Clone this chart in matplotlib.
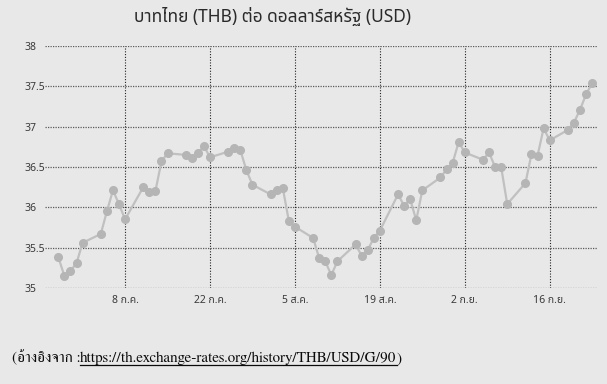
import matplotlib
matplotlib.use("Agg")
import matplotlib.pyplot as plt
import matplotlib.dates as mdates
import pandas as pd

# data (business days, 27 Jun - 23 Sep 2022)
dates = pd.bdate_range("2022-06-27", "2022-09-23")
rate = [
    35.38, 35.15, 35.21, 35.31, 35.56,
    35.67, 35.95, 36.21, 36.04, 35.85,
    36.25, 36.19, 36.20, 36.57, 36.67,
    36.65, 36.61, 36.67, 36.76, 36.62,
    36.69, 36.73, 36.71, 36.46, 36.28,
    36.16, 36.22, 36.24, 35.83, 35.76,
    35.62, 35.37, 35.33, 35.16, 35.33,
    35.54, 35.40, 35.47, 35.62, 35.71,
    36.16, 36.02, 36.10, 35.84, 36.21,
    36.37, 36.47, 36.55, 36.81, 36.68,
    36.59, 36.68, 36.50, 36.50, 36.04,
    36.30, 36.66, 36.64, 36.98, 36.83,
    36.96, 37.05, 37.21, 37.40, 37.54,
]
tick_dates = ["2022-07-08", "2022-07-22", "2022-08-05", "2022-08-19", "2022-09-02", "2022-09-16"]
tick_labels = ["8 ก.ค.", "22 ก.ค.", "5 ส.ค.", "19 ส.ค.", "2 ก.ย.", "16 ก.ย."]
y_ticks = [35, 35.5, 36, 36.5, 37, 37.5, 38]
y_labels = ["35", "35.5", "36", "36.5", "37", "37.5", "38"]

title = "บาทไทย (THB) ต่อ ดอลลาร์สหรัฐ (USD)"
src_head = "(อ้างอิงจาก :"
src_url = "https://th.exchange-rates.org/history/THB/USD/G/90"
src_tail = ")"

W, H = 607, 384
fig = plt.figure(figsize=(W / 100, H / 100), dpi=100, facecolor="#e8e8e8")
ax = fig.add_axes([45 / W, 1 - 288 / H, (597 - 45) / W, (288 - 46) / H])
ax.set_facecolor("none")

x = mdates.date2num(dates)
ax.plot(x, rate, color="#c0c0c0", lw=1.6, marker="o", ms=5.5,
        mfc="#b5b5b5", mec="#b5b5b5", zorder=3)

ax.set_ylim(35, 38)
x0 = mdates.date2num(pd.Timestamp("2022-07-08"))
ax.set_xlim(x0 - 13.2, x0 + 69.9 + 7.9)

ax.set_yticks(y_ticks)
ax.set_yticklabels(y_labels, fontsize=7.5, color="#3a3a3a", family="Noto Sans Thai", ha="left")
ax.tick_params(axis="y", length=0, pad=14.5)
xt = mdates.date2num(pd.to_datetime(tick_dates))
ax.set_xticks(xt)
ax.set_xticklabels(tick_labels, fontsize=7.5, color="#3a3a3a", family="Noto Sans Thai")
ax.tick_params(axis="x", length=0, pad=5)

for v in y_ticks:
    ax.axhline(v, color="#5a5a5a", lw=0.9, ls=(0, (1, 1)), zorder=1)
for v in xt:
    ax.axvline(v, color="#222222", lw=0.8, ls=(0, (1, 1.5)), zorder=1)
for s in ax.spines.values():
    s.set_visible(False)

fig.text(272 / W, 1 - 17 / H, title, ha="center", va="center", fontsize=12.5,
         color="#2a2a2a", family="Noto Sans Thai")

# source line with underlined link
r = fig.canvas.get_renderer()
t1 = fig.text(12 / W, 1 - 362 / H, src_head, ha="left", va="baseline", fontsize=10.9,
              color="#0a0a0a", family="FreeSerif")
e1 = t1.get_window_extent(r)
t2 = fig.text(e1.x1 / W, 1 - 362 / H, src_url, ha="left", va="baseline", fontsize=10.9,
              color="#0a0a0a", family="FreeSerif")
e2 = t2.get_window_extent(r)
t3 = fig.text(e2.x1 / W, 1 - 362 / H, src_tail, ha="left", va="baseline", fontsize=10.9,
              color="#0a0a0a", family="FreeSerif")
uy = (H - 362 - 2.5) / H
fig.add_artist(plt.Line2D([e2.x0 / W, e2.x1 / W], [uy, uy], color="#0a0a0a", lw=0.9))

fig.savefig("out.png", dpi=100, facecolor=fig.get_facecolor())
